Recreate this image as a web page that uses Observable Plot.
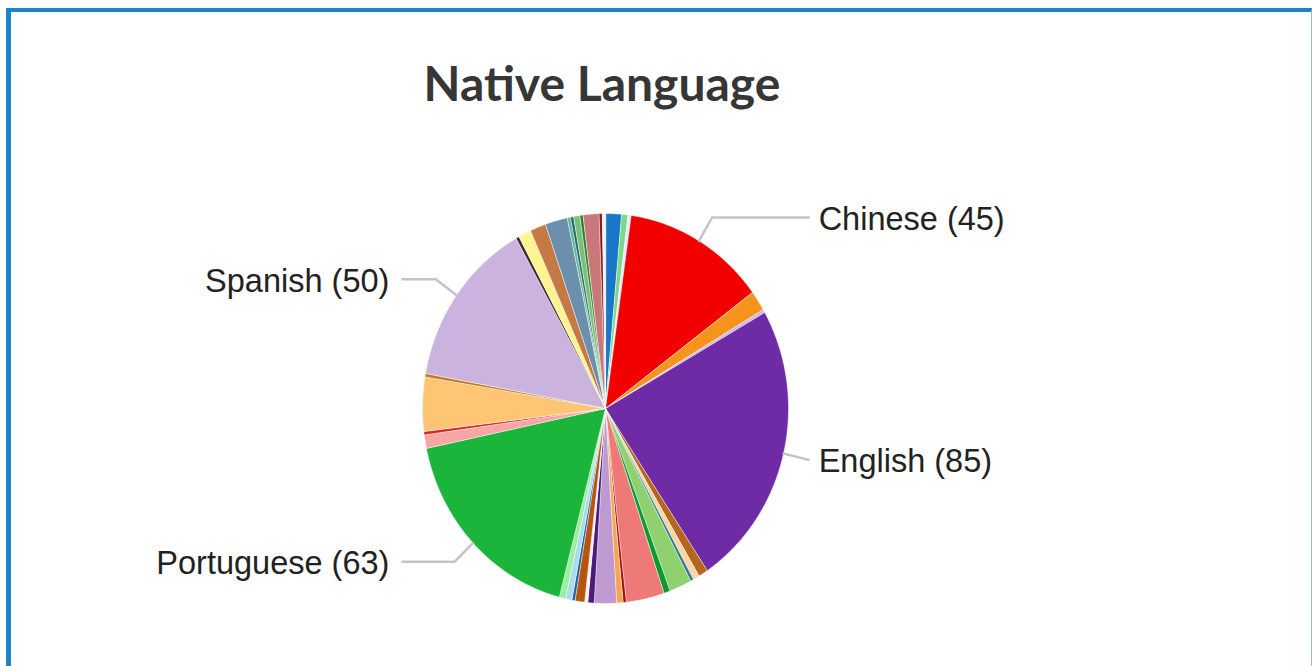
<!DOCTYPE html>
<html><head><meta charset="utf-8">
<script src="https://cdn.jsdelivr.net/npm/d3@7"></script>
<script src="https://cdn.jsdelivr.net/npm/@observablehq/plot@0.6"></script>
<style>
html,body{margin:0;padding:0;background:#fff;width:1312px;height:666px;overflow:hidden;}
#frame{position:absolute;left:6px;top:8px;right:0;height:700px;border-top:4px solid #1d85c6;border-left:5px solid #1d85c6;border-right:1px solid #8bbfe0;box-sizing:border-box;}
#chart{position:absolute;left:0;top:0;width:1312px;}
#title{margin:0;height:150px;padding-top:59px;box-sizing:border-box;font-family:Lato,sans-serif;font-weight:700;font-size:48px;line-height:48px;color:#363636;text-align:center;padding-right:108px;}
</style></head><body>
<div id="frame"></div>
<div id="chart"><h2 id="title">Native Language</h2></div>
<script>
// Slices in clockwise order from 12 o'clock (only four are labelled in the chart)
const names = ["Arabic","Bengali","Bulgarian","Chinese","Croatian","Dutch","English",
  "Farsi","French","German","Greek","Hebrew","Hindi","Hungarian","Indonesian","Italian",
  "Japanese","Korean","Malay","Nepali","Norwegian","Polish","Portuguese",
  "Romanian","Russian","Serbian","Slovak","Spanish",
  "Swahili","Swedish","Tagalog","Tamil","Telugu","Thai","Turkish","Ukrainian","Urdu","Vietnamese","Yoruba"];
const values = [5,2,1,45,6,1,85,
  3,2,1,7,2,12,1,2,7,
  2,1,3,1,2,2,63,
  4,1,16,1,50,
  1,4,5,7,1,1,2,1,5,1,1];
const colors = ["#1a76c8","#7ed88a","#efe8fb","#f20000","#f7941d","#d0b8e8","#6f2aa6",
  "#b5651d","#fbd5a5","#2b7b8c","#8fd16e","#0a9a30","#ee7a78","#a81010","#f8a550","#bf9ad0",
  "#4b1a7a","#f2eef8","#b5560f","#2f5e9e","#a6dcef","#9eeea0","#1cb53c",
  "#f7a6a6","#d42a2a","#fec575","#c77a20","#cbb3df",
  "#3a2a2a","#fff392","#c57a45","#6b8fac","#5fb894","#226e70","#7cc078","#2f7f2f","#c9787a","#8b1a1a","#eef2fa"];
const labeled = ["Chinese","English","Portuguese","Spanish"];

const total = d3.sum(values);
let acc = 0;
const slices = names.map((n, i) => {
  const a0 = acc / total * 2 * Math.PI; acc += values[i];
  const a1 = acc / total * 2 * Math.PI;
  return {name: n, value: values[i], a0, a1};
});
const piePts = slices.flatMap(s => {
  const pts = [{name: s.name, x: 0, y: 0}];
  const n = Math.max(2, Math.ceil((s.a1 - s.a0) / (Math.PI / 360)));
  for (let k = 0; k <= n; k++) {
    const a = s.a0 + (s.a1 - s.a0) * k / n;
    pts.push({name: s.name, x: Math.sin(a), y: Math.cos(a)});
  }
  return pts;
});
const leaders = [], labels = [];
for (const name of labeled) {
  const s = slices.find(d => d.name === name);
  const m = (s.a0 + s.a1) / 2;
  const side = Math.sin(m) >= 0 ? 1 : -1;
  const ex = Math.sin(m), ey = Math.cos(m);
  const bx = 1.14 * ex, by = 1.14 * ey;
  const endx = side * Math.max(Math.abs(bx), 1.11);
  leaders.push({name, x: ex, y: ey}, {name, x: bx, y: by}, {name, x: endx, y: by});
  labels.push({x: endx, y: by, side, text: `${name} (${s.value})`});
}

const plot = Plot.plot({
  width: 1312, height: 516, margin: 0,
  x: {domain: [-1, 1], range: [422, 788], axis: null},
  y: {domain: [-1, 1], range: [453, 63], axis: null},
  color: {domain: names, range: colors},
  style: {background: "transparent", overflow: "visible"},
  marks: [
    Plot.line(piePts, {x: "x", y: "y", z: "name", fill: "name", stroke: "white", strokeWidth: 0.5, curve: "linear-closed", strokeLinejoin: "miter"}),
    Plot.line(leaders, {x: "x", y: "y", z: "name", stroke: "#c4c4c4", strokeWidth: 2.5}),
    Plot.text(labels.filter(d => d.side > 0), {x: "x", y: "y", text: "text", textAnchor: "start", dx: 10, dy: 2, fontSize: 32.5, fontFamily: "Liberation Sans, Arial, sans-serif", fill: "#222"}),
    Plot.text(labels.filter(d => d.side < 0), {x: "x", y: "y", text: "text", textAnchor: "end", dx: -13, dy: 2, fontSize: 32.5, fontFamily: "Liberation Sans, Arial, sans-serif", fill: "#222"})
  ]
});
document.getElementById("chart").appendChild(plot);
</script>
</body></html>
